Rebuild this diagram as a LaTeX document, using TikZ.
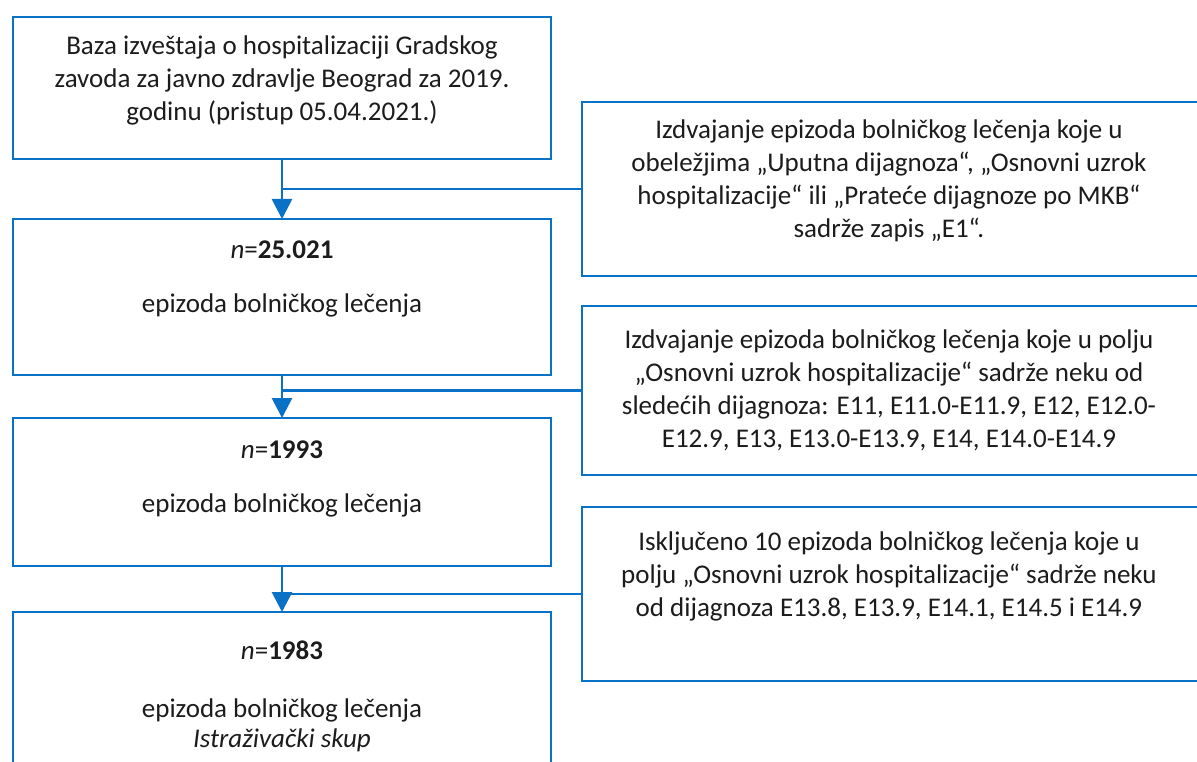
\documentclass[tikz,border=0pt]{standalone}
\usepackage{fontspec}
\setmainfont{Carlito}
\usetikzlibrary{arrows.meta,calc}
\definecolor{lineblue}{HTML}{0A72C6}
\definecolor{txtcol}{HTML}{1C1C1C}
\begin{document}
\begin{tikzpicture}[x=1pt,y=-1pt,
  box/.style={draw=lineblue,line width=2.8pt,fill=white,inner sep=0pt,outer sep=0pt},
  txt/.style={align=center,font=\fontsize{27}{33}\selectfont,text=txtcol,inner sep=0pt},
  arr/.style={draw=lineblue,line width=2.8pt,-{Triangle[length=20pt,width=20pt]}},
  conn/.style={draw=lineblue,line width=2.8pt}]
\useasboundingbox (0,0) rectangle (1197,762);
\fill[white] (0,0) rectangle (1197,762);
\clip (0,0) rectangle (1197,762);
% left boxes
\node[box,minimum width=538pt,minimum height=142pt] (b1) at (282,88) {};
\node[box,minimum width=538pt,minimum height=156pt] (b2) at (282,297) {};
\node[box,minimum width=538pt,minimum height=148pt] (b3) at (282,492) {};
\node[box,minimum width=538pt,minimum height=168pt] (b4) at (282,696) {};
% right boxes
\node[box,minimum width=633pt,minimum height=174pt] (r1) at (898.5,189) {};
\node[box,minimum width=633pt,minimum height=169pt] (r2) at (898.5,390.5) {};
\node[box,minimum width=633pt,minimum height=174pt] (r3) at (898.5,594) {};
% connectors
\draw[arr] (b1.south) -- (b2.north);
\draw[arr] (b2.south) -- (b3.north);
\draw[arr] (b3.south) -- (b4.north);
\draw[conn] (r1.west) -- (r1.west -| b1.south);
\draw[conn] (r2.west) -- (r2.west -| b2.south);
\draw[conn] (r3.west) -- (r3.west -| b3.south);
% texts
\node[txt] (t1) at (282,80) {Baza izveštaja o hospitalizaciji Gradskog\\zavoda za javno zdravlje Beograd za 2019.\\godinu (pristup 05.04.2021.)};
\node[txt] (n2) at (282,250) {\textit{n}=\textbf{25.021}};
\node[txt] (e2) at (282,305) {epizoda bolničkog lečenja};
\node[txt] (n3) at (282,450) {\textit{n}=\textbf{1993}};
\node[txt] (e3) at (282,505) {epizoda bolničkog lečenja};
\node[txt] (n4) at (282,650) {\textit{n}=\textbf{1983}};
\node[txt] (e4) at (282,725) {epizoda bolničkog lečenja\\[-3pt]\textit{Istraživački skup}};
\node[txt] (rt1) at (889,181) {Izdvajanje epizoda bolničkog lečenja koje u\\obeležjima „Uputna dijagnoza“, „Osnovni uzrok\\hospitalizacije“ ili „Prateće dijagnoze po MKB“\\sadrže zapis „E1“.};
\node[txt] (rt2) at (889,390) {Izdvajanje epizoda bolničkog lečenja koje u polju\\„Osnovni uzrok hospitalizacije“ sadrže neku od\\sledećih dijagnoza: E11, E11.0-E11.9, E12, E12.0-\\E12.9, E13, E13.0-E13.9, E14, E14.0-E14.9};
\node[txt] (rt3) at (889,576) {Isključeno 10 epizoda bolničkog lečenja koje u\\polju „Osnovni uzrok hospitalizacije“ sadrže neku\\od dijagnoza E13.8, E13.9, E14.1, E14.5 i E14.9};
\end{tikzpicture}
\end{document}
